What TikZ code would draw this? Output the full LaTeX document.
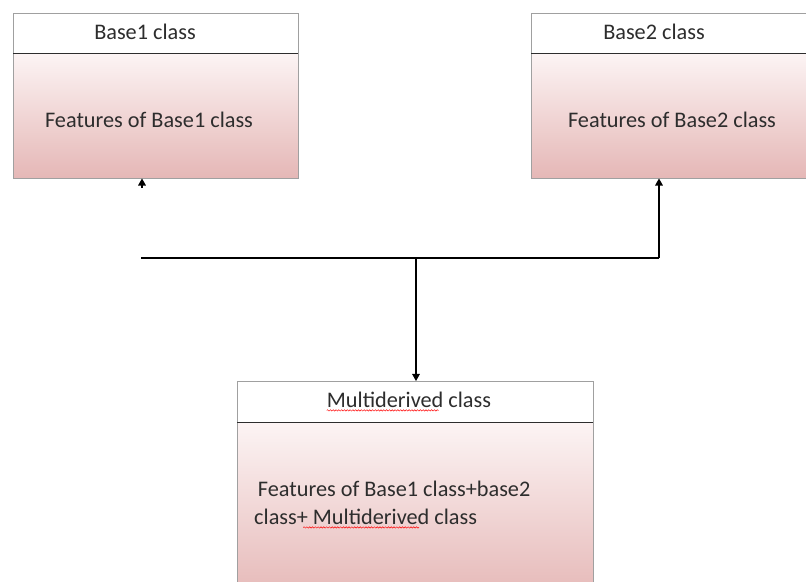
\documentclass[tikz,border=0pt]{standalone}
\usepackage{fontspec}
\setmainfont{Carlito}
\usetikzlibrary{arrows.meta, shadows, decorations.pathmorphing}
\definecolor{mypink1}{RGB}{229, 183, 182}
\definecolor{mypink2}{RGB}{252, 244, 244}
\definecolor{mygray1}{RGB}{160, 160, 160}
\definecolor{mygray2}{RGB}{45, 45, 45}
\tikzset{>={Triangle[length=6pt, width=6.5pt]}}

\begin{document}
\begin{tikzpicture}[
    x = 0.03cm, y = -0.03cm,
    txt/.style = {font = \fontsize{19}{24}\selectfont, text = mygray2, inner sep = 0pt},
    head/.style = {draw = mygray1, fill = white, anchor = north west, inner sep = 0pt, minimum height = 1.2cm},
    body/.style = {draw = mygray1, top color = mypink2, bottom color = mypink1, anchor = north west, inner sep = 0pt,
        drop shadow = {opacity = 0.3, shadow xshift = 0.6pt, shadow yshift = -1pt}},
    sep/.style = {line width = 0.8pt, mygray2},
    con/.style = {line width = 1pt, black},
    wavy/.style = {red, line width = 0.4pt, decorate, decoration = {snake, amplitude = 0.6pt, segment length = 2.4pt}},
]
\useasboundingbox (0,0) rectangle (806,581);
\clip (0,0) rectangle (806,581);

% class boxes
\node[body, minimum width = 8.55cm, minimum height = 3.75cm] (b1body) at (13,53) {};
\node[head, minimum width = 8.55cm] (b1head) at (13,13) {};
\node[body, minimum width = 8.7cm, minimum height = 3.75cm] (b2body) at (531,53) {};
\node[head, minimum width = 8.7cm] (b2head) at (531,13) {};
\node[body, minimum width = 10.68cm, minimum height = 5.4cm] (mdbody) at (237,422) {};
\node[head, minimum width = 10.68cm, minimum height = 1.23cm] (mdhead) at (237,381) {};
\draw[sep] (b1head.south west) -- (b1head.south east);
\draw[sep] (b2head.south west) -- (b2head.south east);
\draw[sep] (mdhead.south west) -- (mdhead.south east);

% texts
\node[txt] (b1title) at (145,32) {Base1 class};
\node[txt] (b1feat) at (149,120) {Features of Base1 class};
\node[txt] (b2title) at (654,32) {Base2 class};
\node[txt] (b2feat) at (672,120) {Features of Base2 class};
\node[txt] (mdtitle) at (409,400) {Multiderived class};
\node[txt, align = left, anchor = west] (mdfeat) at (254,503) {\,Features of Base1 class+base2\\class+ Multiderived class};

% spelling marks
\draw[wavy] ([yshift=-2pt]mdtitle.south west) -- ++(112,0);
\draw[wavy] ([xshift=42, yshift=-2pt]mdfeat.south west) -- ++(116,0);

% connectors
\coordinate (lend) at (141,258);
\coordinate (junc) at (416,258);
\coordinate (rend) at (659,258);
\coordinate (lstub) at (142,188);
\draw[con] (lend) -- (rend);
\draw[con, ->] (rend) -- (rend |- b2body.south);
\draw[con, ->] (junc) -- (junc |- mdhead.north);
\draw[con, ->] (lstub) -- (lstub |- b1body.south);
\end{tikzpicture}
\end{document}
